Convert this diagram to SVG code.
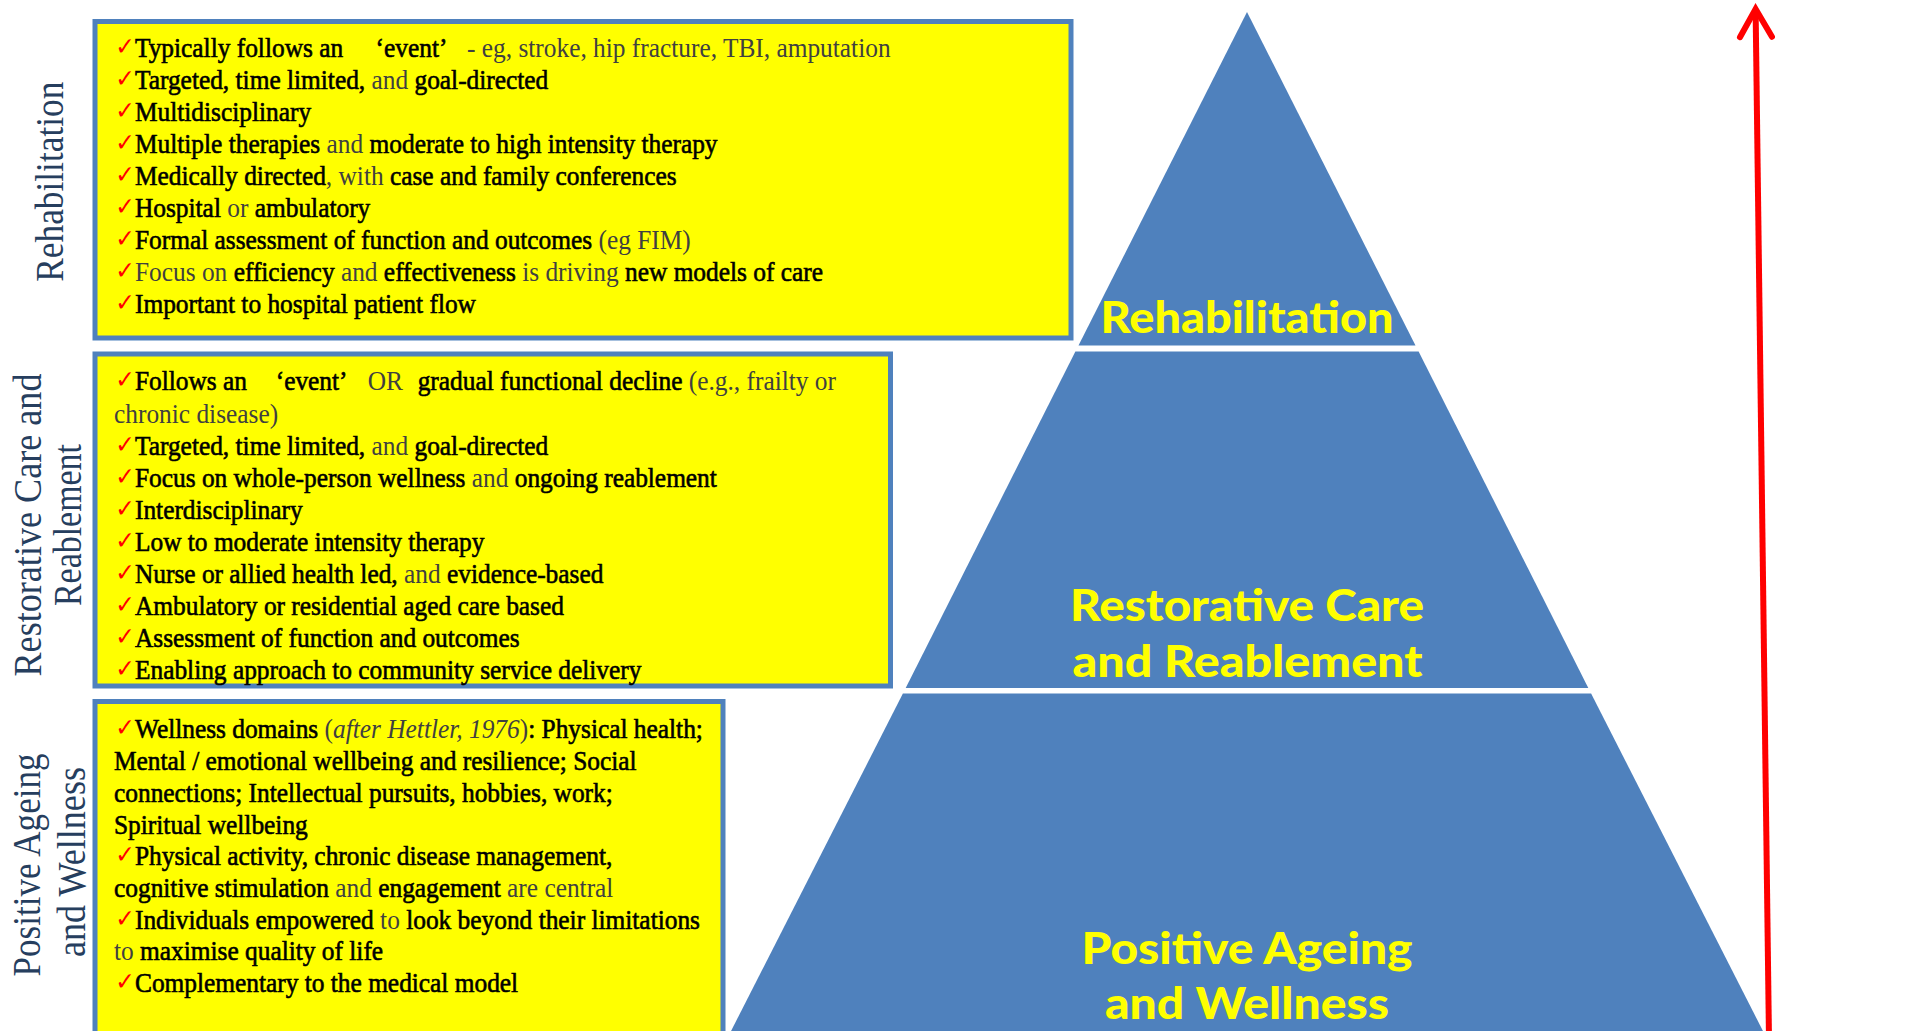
<svg xmlns="http://www.w3.org/2000/svg" width="1907" height="1031" viewBox="0 0 1907 1031">
<style>
.box{fill:#FFFF00;stroke:#4F81BD;stroke-width:5}
.tier{fill:#4F81BD}
.side{font-family:"Liberation Serif","Times New Roman",serif;font-size:41px;fill:#263E5E}
.pl{font-family:Lato,"Open Sans",sans-serif;font-weight:900;font-size:44px;fill:#FFFF00;text-anchor:middle}
.t{font-family:"Liberation Serif","Times New Roman",serif;font-size:27px}
.b{fill:#000;stroke:#000;stroke-width:0.6}
.g{fill:#404040}
.ck{font-family:"DejaVu Sans",sans-serif;font-size:25px;fill:#FF0000}
</style>
<defs>
<marker id="openArrow" markerUnits="userSpaceOnUse" viewBox="-36 -22 44 44" markerWidth="44" markerHeight="44" refX="0" refY="0" orient="auto">
<path d="M-28,-16 L0,0 L-28,16" fill="none" stroke="#FF0000" stroke-width="6" stroke-linecap="round" stroke-linejoin="miter"/>
</marker>
</defs>
<rect width="1907" height="1031" fill="#FFFFFF"/>

<g id="pyramid-rehabilitation">
<polygon class="tier" points="1247,12 1415.5,345.5 1078.5,345.5"/>
<text class="pl" x="1247" y="333" textLength="293" lengthAdjust="spacingAndGlyphs">Rehabilitation</text>
</g>
<g id="pyramid-restorative">
<polygon class="tier" points="1075.4,351.5 1418.6,351.5 1588.3,688 905.7,688"/>
<text class="pl" x="1247" y="621" textLength="354" lengthAdjust="spacingAndGlyphs">Restorative Care</text>
<text class="pl" x="1247.5" y="677" textLength="350" lengthAdjust="spacingAndGlyphs">and Reablement</text>
</g>
<g id="pyramid-positive">
<polygon class="tier" points="902.9,693.5 1591.1,693.5 1765,1035 729,1035"/>
<text class="pl" x="1247" y="964" textLength="331" lengthAdjust="spacingAndGlyphs">Positive Ageing</text>
<text class="pl" x="1247" y="1019" textLength="284" lengthAdjust="spacingAndGlyphs">and Wellness</text>
</g>

<g id="label-rehabilitation">
<text class="side" transform="translate(63,181.7) rotate(-90)" text-anchor="middle" textLength="200" lengthAdjust="spacingAndGlyphs">Rehabilitation</text>
</g>
<g id="label-restorative">
<text class="side" transform="translate(41,525) rotate(-90)" text-anchor="middle" textLength="303" lengthAdjust="spacingAndGlyphs">Restorative Care and</text>
<text class="side" transform="translate(81,525) rotate(-90)" text-anchor="middle" textLength="162" lengthAdjust="spacingAndGlyphs">Reablement</text>
</g>
<g id="label-positive">
<text class="side" transform="translate(40,865) rotate(-90)" text-anchor="middle" textLength="223" lengthAdjust="spacingAndGlyphs">Positive Ageing</text>
<text class="side" transform="translate(85,862) rotate(-90)" text-anchor="middle" textLength="190" lengthAdjust="spacingAndGlyphs">and Wellness</text>
</g>

<g id="box-rehabilitation">
<rect class="box" x="95" y="21.5" width="976" height="316.5"/>
<g transform="scale(0.94,1)">
<text class="ck" x="122.5" y="55.5">✓</text>
<text class="t" y="57.5"><tspan class="b" x="143.6">Typically follows an</tspan><tspan class="b" x="399.6">‘event’</tspan><tspan class="g" x="496.8">- eg, stroke, hip fracture, TBI, amputation</tspan></text>
<text class="ck" x="122.5" y="87.5">✓</text>
<text class="t" x="143.6" y="89.5"><tspan class="b">Targeted, time limited,</tspan><tspan class="g"> and </tspan><tspan class="b">goal-directed</tspan></text>
<text class="ck" x="122.5" y="119.5">✓</text>
<text class="t" x="143.6" y="121.5"><tspan class="b">Multidisciplinary</tspan></text>
<text class="ck" x="122.5" y="151.5">✓</text>
<text class="t" x="143.6" y="153.5"><tspan class="b">Multiple therapies</tspan><tspan class="g"> and </tspan><tspan class="b">moderate to high intensity therapy</tspan></text>
<text class="ck" x="122.5" y="183.5">✓</text>
<text class="t" x="143.6" y="185.5"><tspan class="b">Medically directed</tspan><tspan class="g">, with </tspan><tspan class="b">case and family conferences</tspan></text>
<text class="ck" x="122.5" y="215.5">✓</text>
<text class="t" x="143.6" y="217.5"><tspan class="b">Hospital</tspan><tspan class="g"> or </tspan><tspan class="b">ambulatory</tspan></text>
<text class="ck" x="122.5" y="247.5">✓</text>
<text class="t" x="143.6" y="249.5"><tspan class="b">Formal assessment of function and outcomes</tspan><tspan class="g"> (eg FIM)</tspan></text>
<text class="ck" x="122.5" y="279.5">✓</text>
<text class="t" x="143.6" y="281.5"><tspan class="g">Focus on </tspan><tspan class="b">efficiency</tspan><tspan class="g"> and </tspan><tspan class="b">effectiveness</tspan><tspan class="g"> is driving </tspan><tspan class="b">new models of care</tspan></text>
<text class="ck" x="122.5" y="311.5">✓</text>
<text class="t" x="143.6" y="313.5"><tspan class="b">Important to hospital patient flow</tspan></text>
</g>
</g>

<g id="box-restorative">
<rect class="box" x="95" y="354" width="795.5" height="332"/>
<g transform="scale(0.94,1)">
<text class="ck" x="122.5" y="388.5">✓</text>
<text class="t" y="390.5"><tspan class="b" x="143.6">Follows an</tspan><tspan class="b" x="293.3">‘event’</tspan><tspan class="g" x="391.1">OR</tspan><tspan class="b" x="444.3">gradual functional decline</tspan><tspan class="g"> (e.g., frailty or</tspan></text>
<text class="t" x="121.3" y="422.6"><tspan class="g">chronic disease)</tspan></text>
<text class="ck" x="122.5" y="452.7">✓</text>
<text class="t" x="143.6" y="454.7"><tspan class="b">Targeted, time limited,</tspan><tspan class="g"> and </tspan><tspan class="b">goal-directed</tspan></text>
<text class="ck" x="122.5" y="484.8">✓</text>
<text class="t" x="143.6" y="486.8"><tspan class="b">Focus on whole-person wellness</tspan><tspan class="g"> and </tspan><tspan class="b">ongoing reablement</tspan></text>
<text class="ck" x="122.5" y="516.9">✓</text>
<text class="t" x="143.6" y="518.9"><tspan class="b">Interdisciplinary</tspan></text>
<text class="ck" x="122.5" y="549">✓</text>
<text class="t" x="143.6" y="551"><tspan class="b">Low to moderate intensity therapy</tspan></text>
<text class="ck" x="122.5" y="581.1">✓</text>
<text class="t" x="143.6" y="583.1"><tspan class="b">Nurse or allied health led,</tspan><tspan class="g"> and </tspan><tspan class="b">evidence-based</tspan></text>
<text class="ck" x="122.5" y="613.2">✓</text>
<text class="t" x="143.6" y="615.2"><tspan class="b">Ambulatory or residential aged care based</tspan></text>
<text class="ck" x="122.5" y="645.3">✓</text>
<text class="t" x="143.6" y="647.3"><tspan class="b">Assessment of function and outcomes</tspan></text>
<text class="ck" x="122.5" y="677.4">✓</text>
<text class="t" x="143.6" y="679.4"><tspan class="b">Enabling approach to community service delivery</tspan></text>
</g>
</g>

<g id="box-positive">
<rect class="box" x="95" y="701.5" width="628" height="340"/>
<g transform="scale(0.94,1)">
<text class="ck" x="122.5" y="736.5">✓</text>
<text class="t" x="143.6" y="738.5"><tspan class="b">Wellness domains</tspan><tspan class="g"> (</tspan><tspan class="g" font-style="italic">after Hettler, 1976</tspan><tspan class="g">)</tspan><tspan class="b">: Physical health;</tspan></text>
<text class="t" x="121.3" y="770.2"><tspan class="b">Mental / emotional wellbeing and resilience; Social</tspan></text>
<text class="t" x="121.3" y="801.9"><tspan class="b">connections; Intellectual pursuits, hobbies, work;</tspan></text>
<text class="t" x="121.3" y="833.6"><tspan class="b">Spiritual wellbeing</tspan></text>
<text class="ck" x="122.5" y="863.3">✓</text>
<text class="t" x="143.6" y="865.3"><tspan class="b">Physical activity, chronic disease management,</tspan></text>
<text class="t" x="121.3" y="897"><tspan class="b">cognitive stimulation</tspan><tspan class="g"> and </tspan><tspan class="b">engagement</tspan><tspan class="g"> are central</tspan></text>
<text class="ck" x="122.5" y="926.7">✓</text>
<text class="t" x="143.6" y="928.7"><tspan class="b">Individuals empowered</tspan><tspan class="g"> to </tspan><tspan class="b">look beyond their limitations</tspan></text>
<text class="t" x="121.3" y="960.4"><tspan class="g">to </tspan><tspan class="b">maximise quality of life</tspan></text>
<text class="ck" x="122.5" y="990.1">✓</text>
<text class="t" x="143.6" y="992.1"><tspan class="b">Complementary to the medical model</tspan></text>
</g>
</g>

<g id="connectors">
<line x1="1769" y1="1040" x2="1755.6" y2="9" stroke="#FF0000" stroke-width="6" marker-end="url(#openArrow)"/>
</g>
</svg>
